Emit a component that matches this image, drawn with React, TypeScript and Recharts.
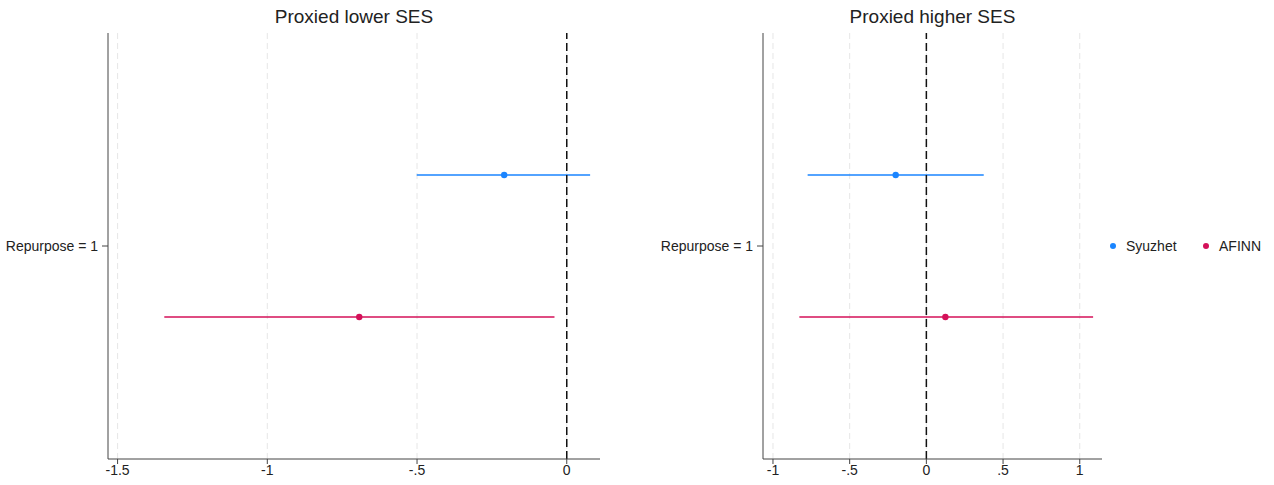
import {
  ScatterChart,
  Scatter,
  XAxis,
  YAxis,
  ReferenceLine,
  ErrorBar,
} from "recharts"

// Coefficient estimates with 95% intervals, one row per sentiment lexicon
const SERIES = ["Syuzhet", "AFINN"]
const ROWS = [1, 2]
const ROW_LABEL = "Repurpose = 1"

const LOWER_EST = [-0.209, -0.693]
const LOWER_LO = [-0.501, -1.344]
const LOWER_HI = [0.078, -0.041]

const HIGHER_EST = [-0.2, 0.124]
const HIGHER_LO = [-0.774, -0.828]
const HIGHER_HI = [0.374, 1.087]

const LOWER_TICKS = [-1.5, -1, -0.5, 0]
const HIGHER_TICKS = [-1, -0.5, 0, 0.5, 1]

const COLORS = ["#1a85ff", "#d41159"]
const FONT = "'Liberation Sans', Arial, sans-serif"
const INK = "#222"
const AXIS = "#444"

// Stata-style tick labels: "-.5" instead of "-0.5"
const fmt = (v: number) => (v === 0 ? "0" : String(v).replace(/^(-?)0\./, "$1."))

function rowsFor(est: number[], lo: number[], hi: number[]) {
  return SERIES.map((name, i) => ({
    name,
    data: [{ x: est[i], row: ROWS[i], err: [est[i] - lo[i], hi[i] - est[i]] }],
  }))
}

interface PanelProps {
  title: string
  left: number
  width: number
  rightMargin: number
  domain: [number, number]
  ticks: number[]
  est: number[]
  lo: number[]
  hi: number[]
}

function Panel({ title, left, width, rightMargin, domain, ticks, est, lo, hi }: PanelProps) {
  const series = rowsFor(est, lo, hi)
  const plotLeft = 108
  const plotWidth = width - plotLeft - rightMargin

  return (
    <div style={{ position: "absolute", left, top: 0, width, height: 485 }}>
      <div
        style={{
          position: "absolute",
          left: plotLeft,
          top: 6,
          width: plotWidth,
          textAlign: "center",
          fontSize: 19,
          lineHeight: "22px",
          color: INK,
        }}
      >
        {title}
      </div>
      <ScatterChart width={width} height={485} margin={{ top: 33, right: rightMargin, bottom: 4, left: 0 }}>
        {/* light dashed guides at each x tick */}
        {ticks.map((t) => (
          <ReferenceLine key={t} x={t} stroke="#e6e6e6" strokeDasharray="6 4" />
        ))}
        <XAxis
          type="number"
          dataKey="x"
          domain={domain}
          allowDataOverflow
          ticks={ticks}
          tickFormatter={fmt}
          height={22}
          tickSize={5}
          tickMargin={1}
          stroke={AXIS}
          tick={{ fill: INK, fontSize: 14 }}
        />
        <YAxis
          type="number"
          dataKey="row"
          domain={[0, 3]}
          reversed
          allowDataOverflow
          ticks={[1.5]}
          tickFormatter={() => ROW_LABEL}
          width={plotLeft}
          tickSize={6}
          tickMargin={4}
          stroke={AXIS}
          tick={{ fill: INK, fontSize: 14 }}
        />
        {series.map((s, i) => (
          <Scatter
            key={s.name}
            name={s.name}
            data={s.data}
            fill={COLORS[i]}
            isAnimationActive={false}
            shape={(p: any) => <circle cx={p.cx} cy={p.cy} r={3.2} fill={COLORS[i]} />}
          >
            <ErrorBar dataKey="err" direction="x" width={0} stroke={COLORS[i]} strokeWidth={1.3} />
          </Scatter>
        ))}
        <ReferenceLine x={0} stroke="#111" strokeWidth={1.5} strokeDasharray="8 4" />
      </ScatterChart>
    </div>
  )
}

function LegendItem({ label, color, left }: { label: string; color: string; left: number }) {
  return (
    <div style={{ position: "absolute", left, top: 0, display: "flex", alignItems: "center", height: 16 }}>
      <div style={{ width: 6, height: 6, borderRadius: "50%", background: color, marginRight: 10 }} />
      <span style={{ fontSize: 14, color: INK }}>{label}</span>
    </div>
  )
}

export default function App() {
  return (
    <div
      style={{
        position: "absolute",
        left: 0,
        top: 0,
        width: 1274,
        height: 485,
        background: "#fff",
        fontFamily: FONT,
      }}
    >
      <Panel
        title="Proxied lower SES"
        left={0}
        width={640}
        rightMargin={40}
        domain={[-1.532, 0.111]}
        ticks={LOWER_TICKS}
        est={LOWER_EST}
        lo={LOWER_LO}
        hi={LOWER_HI}
      />
      <Panel
        title="Proxied higher SES"
        left={655}
        width={460}
        rightMargin={13}
        domain={[-1.065, 1.145]}
        ticks={HIGHER_TICKS}
        est={HIGHER_EST}
        lo={HIGHER_LO}
        hi={HIGHER_HI}
      />
      <div style={{ position: "absolute", left: 0, top: 238, width: 1274, height: 16 }}>
        {SERIES.map((name, i) => (
          <LegendItem key={name} label={name} color={COLORS[i]} left={[1110, 1203][i]} />
        ))}
      </div>
    </div>
  )
}
